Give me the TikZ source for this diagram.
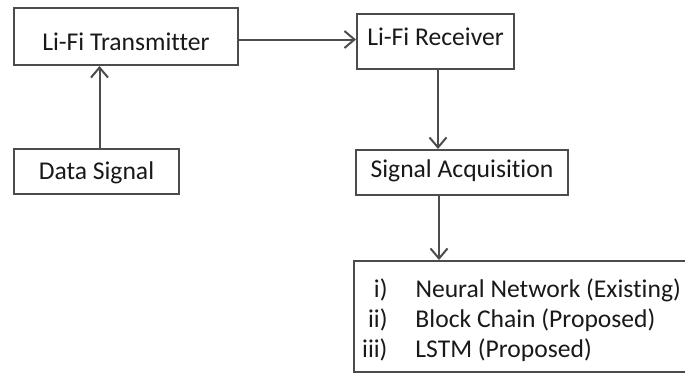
\documentclass[tikz,border=0pt]{standalone}
\usepackage{fontspec}
\setmainfont[Ligatures=NoCommon]{Carlito}
\usetikzlibrary{arrows.meta}

\begin{document}
\begin{tikzpicture}[x=1pt,y=-1pt,
   >={Straight Barb[length=10pt,width=17pt]},
   blk/.style={draw=black!70,line width=2pt,inner sep=0pt,anchor=north west,
     text=black!90,font=\fontsize{25.6}{30.3}\selectfont},
   link/.style={draw=black!70,line width=2pt,->}]
\useasboundingbox (0,0) rectangle (685,376);

% sender side
\node [blk,minimum width=224pt,minimum height=57pt,text height=33pt,text depth=6pt] (tx) at (13,7) {Li-Fi Transmitter};
\node [blk,minimum width=165pt,minimum height=45pt,text height=21pt,text depth=6pt] (ds) at (13,148) {Data Signal};

% receiver side
\node [blk,minimum width=157pt,minimum height=55pt,text height=13pt,text depth=6pt] (rx) at (356,13) {Li-Fi Receiver};
\node [blk,minimum width=212pt,minimum height=45pt,text height=15pt,text depth=6pt] (sa) at (355,149) {Signal Acquisition};

% methods
\node [blk,minimum width=335pt,minimum height=111pt,text height=25pt,text depth=64pt] (ml) at (353,260)
 {\begin{tabular}[t]{@{}r@{\hspace{28pt}}l@{}}
   i)   & Neural Network (Existing)\\
   ii)  & Block Chain (Proposed)\\
   iii) & LSTM (Proposed)
  \end{tabular}};

% arrows
\draw [link] ([xshift=3pt]ds.north) -- ([xshift=3pt]ds.north |- tx.south);
\draw [link] ([yshift=-3pt]tx.east) -- ([yshift=-3pt]tx.east -| rx.west);
\draw [link] ([xshift=2.5pt]rx.south) -- ([xshift=2.5pt]rx.south |- sa.north);
\draw [link] ([xshift=3.5pt]rx.south |- sa.south) -- ([xshift=3.5pt]rx.south |- ml.north);

\end{tikzpicture}
\end{document}
